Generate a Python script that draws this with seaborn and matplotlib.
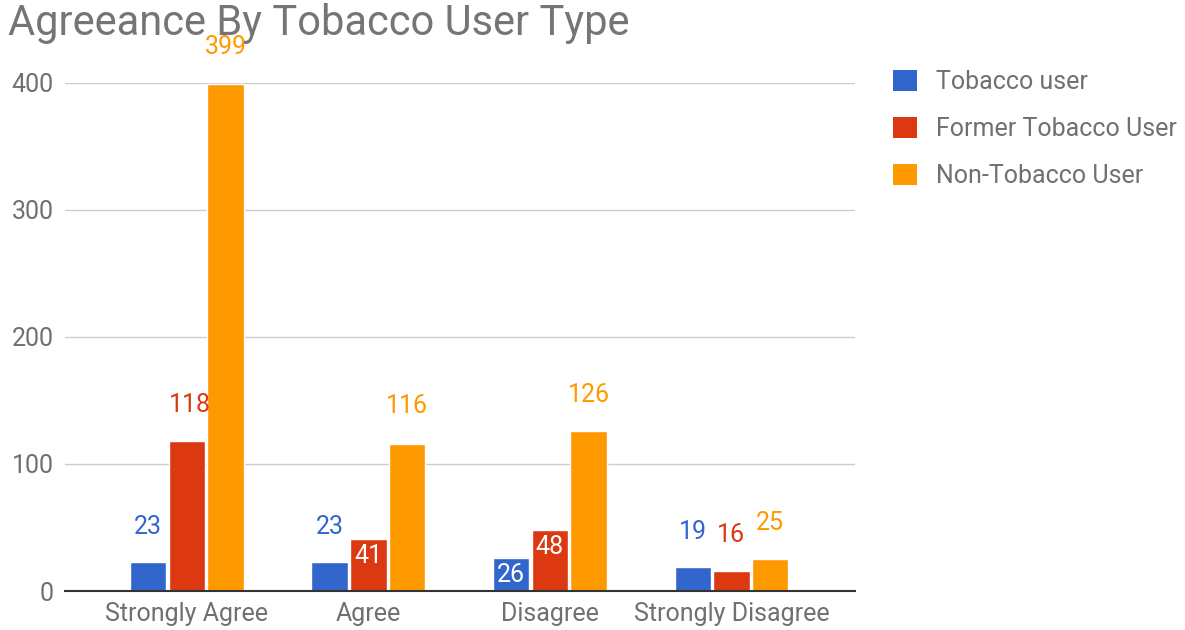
import matplotlib
matplotlib.use("Agg")
import matplotlib.pyplot as plt
from matplotlib.patches import Patch
import seaborn as sns
import pandas as pd

# Survey responses by tobacco-use group
categories = ["Strongly Agree", "Agree", "Disagree", "Strongly Disagree"]
series_names = ["Tobacco user", "Former Tobacco User", "Non-Tobacco User"]
tobacco_user = [23, 23, 26, 19]
former_user = [118, 41, 48, 16]
non_user = [399, 116, 126, 25]
y_ticks = [0, 100, 200, 300, 400]

colors = ["#3366CC", "#DC3912", "#FF9900"]
text_gray = "#707070"

rows = []
for name, vals in zip(series_names, [tobacco_user, former_user, non_user]):
    for cat, v in zip(categories, vals):
        rows.append({"category": cat, "group": name, "count": v})
df = pd.DataFrame(rows)

sns.set_theme(style="white")
plt.rcParams["font.family"] = ["Roboto", "DejaVu Sans"]

fig = plt.figure(figsize=(11.85, 6.30), dpi=100)
ax = fig.add_axes([0.0549, 0.0619, 0.6666, 0.8064])

sns.barplot(data=df, x="category", y="count", hue="group", order=categories,
            hue_order=series_names, palette=colors, width=0.64, gap=0.06,
            saturation=1, ax=ax, legend=False, zorder=3)

ax.set_xlim(-0.67, 3.68)
ax.set_ylim(0, 400)
ax.set_yticks(y_ticks)
ax.set_xlabel("")
ax.set_ylabel("")
for s in ["left", "right", "top"]:
    ax.spines[s].set_visible(False)
ax.spines["bottom"].set_color("#333333")
ax.spines["bottom"].set_linewidth(1.5)
ax.spines["bottom"].set_zorder(4)
ax.yaxis.grid(True, color="#CCCCCC", linewidth=1.0, zorder=0)
ax.set_axisbelow(True)
ax.tick_params(axis="both", length=0, labelsize=18, labelcolor=text_gray)
ax.tick_params(axis="y", pad=8)
ax.tick_params(axis="x", pad=8)

# Value labels: (dx, dy) offsets in points from bar top; inside labels are white
label_offsets = [
    [(0, 25), (0, 25), (0, -12), (0, 25)],
    [(2, 26), (0, -12), (0, -12), (0, 26)],
    [(0, 27), (0, 27), (0, 26), (0, 26)],
]
inside = [
    [False, False, True, False],
    [False, True, True, False],
    [False, False, False, False],
]
for si, cont in enumerate(ax.containers):
    for ci, bar in enumerate(cont.patches):
        h = bar.get_height()
        x = bar.get_x() + bar.get_width() / 2
        dx, dy = label_offsets[si][ci]
        ax.annotate(f"{int(round(h))}", (x, h), xytext=(dx, dy),
                    textcoords="offset points", ha="center", va="center",
                    fontsize=18, color="white" if inside[si][ci] else colors[si],
                    zorder=5, annotation_clip=False)

# Title sits above the axes contents (it overlaps the tallest value label)
fig.text(0.0068, 0.962, "Agreeance By Tobacco User Type", fontsize=30,
         color="#757575", ha="left", va="center", zorder=10)

handles = [Patch(facecolor=c, edgecolor="none") for c in colors]
leg = fig.legend(handles, series_names, loc="upper left",
                 bbox_to_anchor=(0.754, 0.889), frameon=False, fontsize=18,
                 handlelength=0.95, handleheight=0.95, handletextpad=0.75,
                 labelspacing=0.9, borderaxespad=0, borderpad=0)
for t in leg.get_texts():
    t.set_color(text_gray)

fig.savefig("out.png", dpi=100)
